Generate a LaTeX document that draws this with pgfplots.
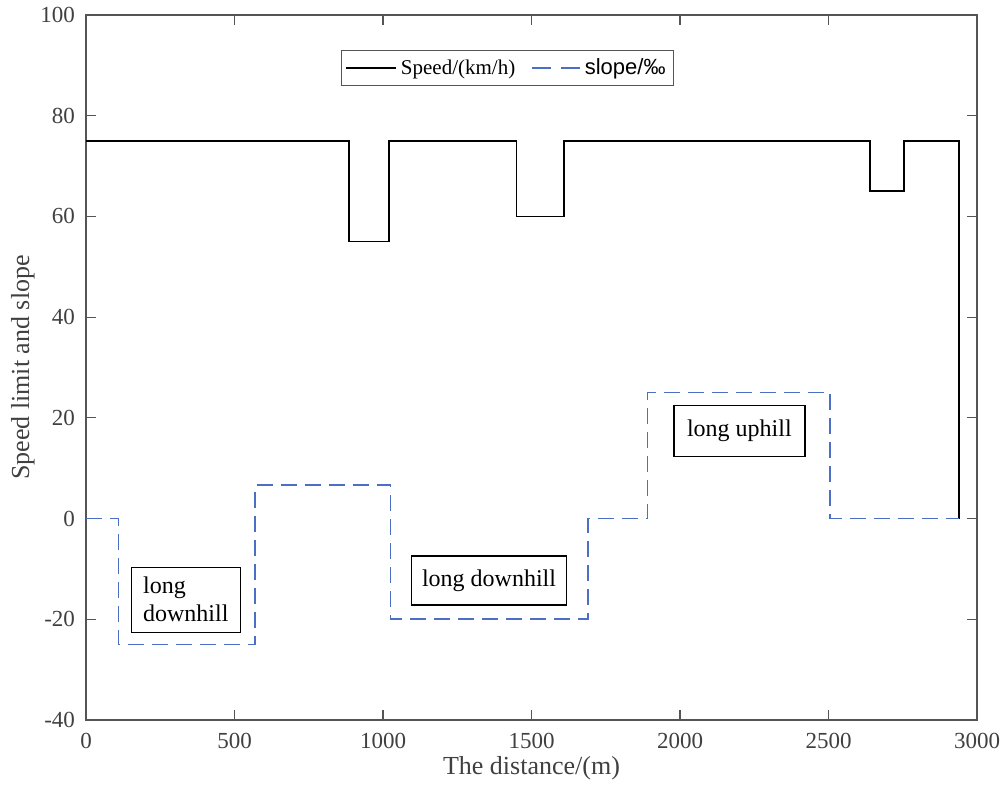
\documentclass[border=0pt]{standalone}
\usepackage{fontspec}
\setmainfont{Liberation Serif}
\newfontfamily\sansf{Liberation Sans}
\usepackage{pgfplots}
\pgfplotsset{compat=1.18}
\usetikzlibrary{calc}
\definecolor{axgray}{HTML}{555555}
\definecolor{txgray}{HTML}{404040}
\definecolor{slopeblue}{HTML}{4A6FC4}
\begin{document}
\begin{tikzpicture}
\begin{axis}[
  scale only axis,
  width=445.5pt, height=352.5pt,
  xmin=0, xmax=3000, ymin=-40, ymax=100,
  xtick={0,500,...,3000}, ytick={-40,-20,...,100},
  tick align=inside,
  xtick pos=both, ytick pos=both,
  major tick length=5pt,
  axis line style={axgray, line width=0.7pt},
  every tick/.style={axgray, line width=0.6pt},
  /pgf/number format/assume math mode=true,
  /pgf/number format/1000 sep={},
  tick label style={font=\fontsize{11.5}{13}\selectfont, text=txgray},
  xticklabel style={yshift=-3pt},
  yticklabel style={xshift=-2pt},
  xlabel={The distance/(m)},
  ylabel={Speed limit and slope},
  label style={font=\fontsize{13}{15}\selectfont, text=txgray},
  xlabel style={yshift=3pt},
  ylabel style={yshift=-4pt},
  legend columns=2,
  legend style={at={(0.473,0.9244)}, anchor=center, draw=axgray,
    line width=0.6pt, font=\fontsize{10.5}{12}\selectfont,
    inner xsep=2pt, inner ysep=2pt,
    /tikz/every even column/.append style={column sep=6pt}},
  legend image code/.code={\draw[#1] (0pt,0pt) -- (25pt,0pt);},
]
\coordinate (sw) at (rel axis cs:0,0);
\coordinate (ne) at (rel axis cs:1,1);

% speed limit profile
\addplot[black, line width=0.8pt, const plot] coordinates {
  (0,75) (885,55) (1020,75) (1450,60) (1610,75) (2640,65) (2755,75) (2940,0)
};
\addlegendentry{Speed/(km/h)}

% gradient profile
\addplot[slopeblue, line width=0.8pt, dash pattern=on 8pt off 4pt, const plot,
  legend image code/.code={\draw[slopeblue, line width=0.8pt, dash pattern=on 9.5pt off 5pt] (0pt,0pt) -- (24pt,0pt);}]
  coordinates {
  (0,0) (110,-25) (570,6.67) (1025,-20) (1690,0) (1890,25) (2505,0) (2940,0)
};
\addlegendentry{{\sansf\fontsize{11}{12}\selectfont slope/‰}}

\node[draw=black, line width=0.6pt, align=left, font=\fontsize{12}{14}\selectfont,
  minimum width=51pt, minimum height=32.5pt, inner xsep=6pt]
  at (axis cs:336,-16.1) {long\\downhill};
\node[draw=black, line width=0.6pt, font=\fontsize{12}{14}\selectfont,
  minimum width=77.5pt, minimum height=24.5pt]
  at (axis cs:1357,-12.3) {long downhill};
\node[draw=black, line width=0.6pt, font=\fontsize{12}{14}\selectfont,
  minimum width=65.5pt, minimum height=25.5pt]
  at (axis cs:2200,17.4) {long uphill};
\end{axis}
\pgfresetboundingbox
\useasboundingbox ($(sw)+(-43pt,-38pt)$) rectangle ($(ne)+(14pt,7.5pt)$);
\end{tikzpicture}
\end{document}
